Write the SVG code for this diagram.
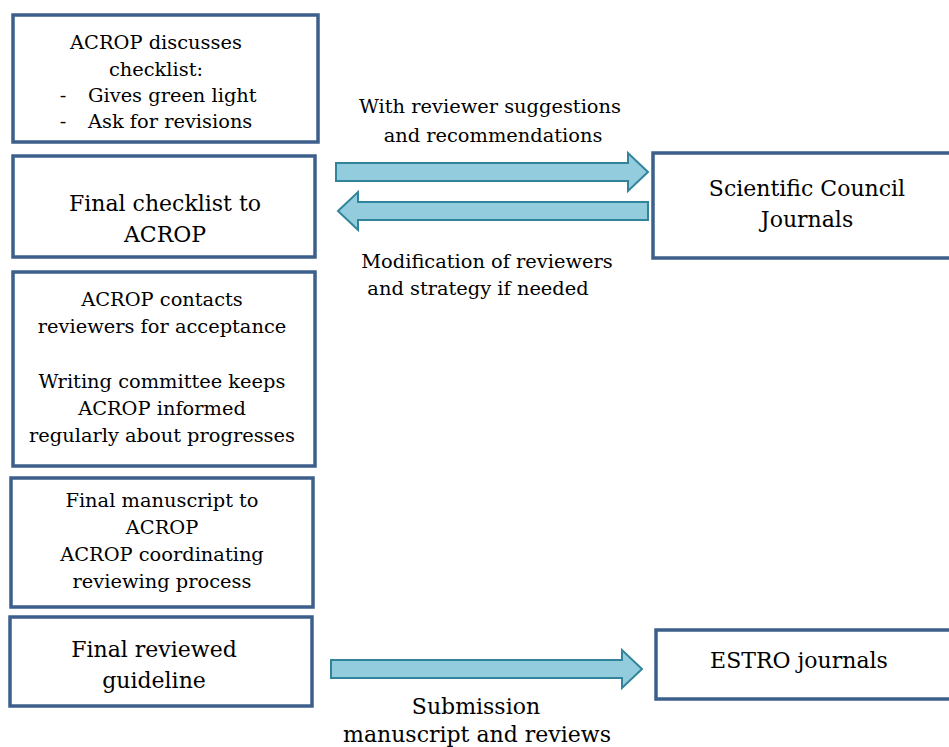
<svg xmlns="http://www.w3.org/2000/svg" width="949" height="747" viewBox="0 0 949 747">
<style>
.box{fill:#fff;stroke:#3C5F8C;stroke-width:3.5}
.arr{fill:#93CDDD;stroke:#31849B;stroke-width:2}
text{font-family:"DejaVu Serif","Liberation Serif",serif;fill:#000;text-anchor:middle}
.s{font-size:19.4px}
.m{font-size:22px}
.l{font-size:22px}
</style>
<rect width="949" height="747" fill="#fff"/>
<g id="connectors">
<path class="arr" d="M336,163 H628 V153 L648,172 L628,191 V181 H336 Z"/>
<path class="arr" d="M648,202 H358 V192 L338,211 L358,230 V220 H648 Z"/>
<path class="arr" d="M331,660 H622 V650 L642,669 L622,688 V678 H331 Z"/>
</g>
<g id="n1"><rect class="box" x="13" y="15" width="305" height="127"/>
<text class="s" x="156" y="49">ACROP discusses</text>
<text class="s" x="156" y="76">checklist:</text>
<text class="s" x="63" y="102">-</text><text class="s" x="88" y="102" style="text-anchor:start">Gives green light</text>
<text class="s" x="63" y="128">-</text><text class="s" x="88" y="128" style="text-anchor:start">Ask for revisions</text>
</g>
<g id="n2"><rect class="box" x="13" y="156" width="302" height="101"/>
<text class="m" x="165" y="211">Final checklist to</text>
<text class="m" x="165" y="242">ACROP</text>
</g>
<g id="n3"><rect class="box" x="13" y="272" width="302" height="194"/>
<text class="s" x="162" y="306">ACROP contacts</text>
<text class="s" x="162" y="333">reviewers for acceptance</text>
<text class="s" x="162" y="388">Writing committee keeps</text>
<text class="s" x="162" y="415">ACROP informed</text>
<text class="s" x="162" y="442">regularly about progresses</text>
</g>
<g id="n4"><rect class="box" x="11" y="478" width="302" height="129"/>
<text class="s" x="162" y="507">Final manuscript to</text>
<text class="s" x="162" y="534">ACROP</text>
<text class="s" x="162" y="561">ACROP coordinating</text>
<text class="s" x="162" y="588">reviewing process</text>
</g>
<g id="n5"><rect class="box" x="10" y="617" width="302" height="89"/>
<text class="m" x="154" y="657">Final reviewed</text>
<text class="m" x="154" y="688">guideline</text>
</g>
<g id="n6"><rect class="box" x="653" y="153" width="300" height="105"/>
<text class="m" x="807" y="196">Scientific Council</text>
<text class="m" x="807" y="227">Journals</text>
</g>
<g id="n7"><rect class="box" x="656" y="630" width="297" height="69"/>
<text class="m" x="799" y="668">ESTRO journals</text>
</g>
<g id="labels">
<text class="s" x="490" y="113">With reviewer suggestions</text>
<text class="s" x="493" y="142">and recommendations</text>
<text class="s" x="487" y="268">Modification of reviewers</text>
<text class="s" x="478" y="295">and strategy if needed</text>
<text class="l" x="476" y="714">Submission</text>
<text class="l" x="477" y="742">manuscript and reviews</text>
</g>
</svg>
